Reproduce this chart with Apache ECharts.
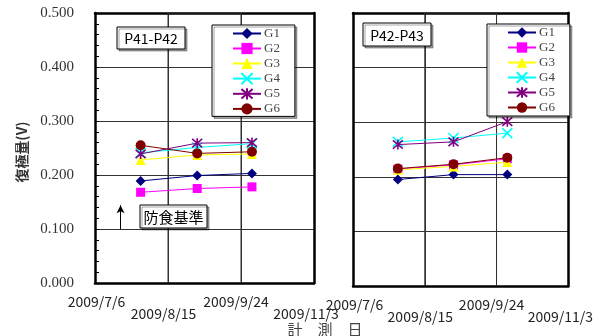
<!DOCTYPE html>
<html>
<head>
<meta charset="utf-8">
<script src="https://cdn.jsdelivr.net/npm/echarts@6/dist/echarts.min.js"></script>
<style>html,body{margin:0;padding:0;background:#fff}#c{width:612px;height:336px}</style>
</head>
<body>
<div id="c"></div>
<script>
// ---- data ----
const seriesNames = ['G1', 'G2', 'G3', 'G4', 'G5', 'G6'];
const measureDates = ['2009/7/31', '2009/8/31', '2009/9/30'];
const xTickLabels = ['2009/7/6', '2009/8/15', '2009/9/24', '2009/11/3'];
const panelTitles = ['P41-P42', 'P42-P43'];

const p41_G1 = [0.189, 0.199, 0.203];
const p41_G2 = [0.168, 0.175, 0.178];
const p41_G3 = [0.228, 0.237, 0.239];
const p41_G4 = [0.241, 0.251, 0.258];
const p41_G5 = [0.239, 0.259, 0.260];
const p41_G6 = [0.255, 0.240, 0.243];

const p42_G1 = [0.195, 0.204, 0.204];
const p42_G2 = [0.214, 0.222, 0.233];
const p42_G3 = [0.213, 0.219, 0.227];
const p42_G4 = [0.264, 0.271, 0.280];
const p42_G5 = [0.259, 0.264, 0.301];
const p42_G6 = [0.215, 0.223, 0.235];

const yRange = [0, 0.5];
const criterionLine = [0.100, 0.144];   // 防食基準 arrow (V)
const criterionDate = '2009/7/20';

// ---- helpers ----
const startDate = new Date(xTickLabels[0]);
const dayOf = s => Math.round((new Date(s) - startDate) / 86400000);
const innerTicks = xTickLabels.slice(1, -1).map(dayOf);   // vertical grid lines

const styles = {
  G1: {color: '#000080', symbol: 'diamond', size: 10},
  G2: {color: '#FF00FF', symbol: 'rect', size: 9},
  G3: {color: '#FFFF00', symbol: 'triangle', size: 10},
  G4: {color: '#00FFFF', symbol: 'path://M0,0L10,10M10,0L0,10', size: 10, stroke: true},
  G5: {color: '#800080', symbol: 'path://M0,0L10,10M10,0L0,10M5,-1L5,11', size: 10, stroke: true},
  G6: {color: '#800000', symbol: 'circle', size: 10}
};

const panels = [
  [p41_G1, p41_G2, p41_G3, p41_G4, p41_G5, p41_G6],
  [p42_G1, p42_G2, p42_G3, p42_G4, p42_G5, p42_G6]
];

const series = [];
panels.forEach((vals, gi) => {
  // vertical grid lines at the inner date ticks (bottom -> top -> next tick -> bottom)
  const gridPath = [];
  innerTicks.forEach((v, k) => {
    const ends = k % 2 === 0 ? [yRange[0], yRange[1]] : [yRange[1], yRange[0]];
    gridPath.push([v, ends[0]], [v, ends[1]]);
  });
  series.push({
    type: 'line', xAxisIndex: gi, yAxisIndex: gi, data: gridPath, z: 2,
    silent: true, symbol: 'none', showSymbol: false, clip: false,
    lineStyle: {color: '#333', width: 1}, emphasis: {disabled: true}, tooltip: {show: false}
  });
  seriesNames.forEach((name, si) => {
    const st = styles[name];
    const s = {
      name: name, type: 'line', xAxisIndex: gi, yAxisIndex: gi,
      data: measureDates.map((d, i) => [dayOf(d), vals[si][i]]),
      symbol: st.symbol, symbolSize: st.size,
      lineStyle: {color: st.color, width: 1},
      itemStyle: st.stroke ? {color: st.color, borderColor: st.color, borderWidth: 1.6} : {color: st.color},
      emphasis: {disabled: true},
      z: 10 + si
    };
    if (gi === 0 && si === 1) {
      s.markLine = {
        silent: true, symbol: ['none', 'arrow'], symbolSize: [6, 8],
        label: {show: false}, emphasis: {disabled: true},
        lineStyle: {color: '#000', width: 1, type: 'solid'},
        data: [[{coord: [dayOf(criterionDate), criterionLine[0]]}, {coord: [dayOf(criterionDate), criterionLine[1]]}]]
      };
    }
    series.push(s);
  });
});

const shadow = {shadowColor: 'rgba(0,0,0,0.35)', shadowOffsetX: 2, shadowOffsetY: 2, shadowBlur: 0};
const frameLine = {show: true, onZero: false, lineStyle: {color: '#000', width: 2.5}};
const gridLine = {show: true, lineStyle: {color: '#333', width: 1}};

function lab(pad) {
  return {fontSize: 14, fontFamily: 'Noto Sans CJK JP', color: '#222', lineHeight: 16, padding: pad};
}
const labRich = {t0: lab([0, 0, 0, 3]), t1: lab([0, 9, 0, 0]), t2: lab([0, 10, 0, 0]), t3: lab([0, 16, 0, 0])};

// main bottom axis: upper-row labels (even ticks)
function xAxis(gi) {
  return {
    type: 'value', gridIndex: gi, min: 0, max: 120, interval: 40, position: 'bottom',
    axisLine: frameLine, axisTick: {show: false},
    splitLine: gridLine,
    axisLabel: {
      margin: 11, showMinLabel: true, showMaxLabel: true,
      formatter: (v) => {
        const idx = Math.round(v / 40);
        return idx % 2 === 0 ? '{t' + idx + '|' + xTickLabels[idx] + '}' : '';
      },
      rich: labRich
    }
  };
}
// second bottom axis: lower-row labels (odd ticks)
function xAxisLow(gi) {
  return {
    type: 'value', gridIndex: gi, min: 0, max: 120, interval: 40, position: 'bottom',
    axisLine: {show: false}, axisTick: {show: false}, splitLine: {show: false},
    axisLabel: {
      margin: 23, showMinLabel: true, showMaxLabel: true,
      formatter: (v) => {
        const idx = Math.round(v / 40);
        return idx % 2 === 1 ? '{t' + idx + '|' + xTickLabels[idx] + '}' : '';
      },
      rich: labRich
    }
  };
}
function xAxisTop(gi) {
  return {type: 'value', gridIndex: gi, min: 0, max: 120, interval: 40, position: 'top',
    axisLine: frameLine, axisTick: {show: false}, axisLabel: {show: false}, splitLine: {show: false}};
}

function yAxis(gi) {
  return {
    type: 'value', gridIndex: gi, min: yRange[0], max: yRange[1], interval: 0.1, position: 'left',
    axisLine: frameLine,
    axisTick: {show: gi === 0, inside: true, length: 4, lineStyle: {color: '#000'}},
    minorTick: {show: gi === 0, splitNumber: 5, length: 4, lineStyle: {color: '#000'}},
    splitLine: gridLine,
    axisLabel: {
      show: gi === 0, margin: 21, color: '#333',
      fontFamily: 'Liberation Serif', fontSize: 15,
      showMinLabel: true, showMaxLabel: true,
      formatter: v => v.toFixed(3)
    }
  };
}
function yAxisRight(gi) {
  return {type: 'value', gridIndex: gi, min: yRange[0], max: yRange[1], position: 'right',
    axisLine: frameLine, axisTick: {show: false}, axisLabel: {show: false}, splitLine: {show: false}};
}

function legend(left, top, pad, ih) {
  return {
    data: seriesNames, orient: 'vertical', left: left, top: top,
    padding: pad, itemGap: 2, itemWidth: 28, itemHeight: ih,
    backgroundColor: '#fff', borderColor: '#000', borderWidth: 1,
    ...shadow, z: 20,
    selectedMode: false,
    textStyle: {fontFamily: 'Liberation Serif', fontSize: 13, color: '#444', padding: [0, 0, 0, -2]}
  };
}

function box(x, y, w, h, text, fs) {
  return [
    {type: 'rect', z: 100, shape: {x: x, y: y, width: w, height: h},
     style: {fill: '#fff', stroke: '#000', lineWidth: 1, ...shadow}},
    {type: 'text', z: 101, x: x + w / 2, y: y + h / 2 + 1,
     style: {text: text, fill: '#000', font: fs + 'px "Noto Sans CJK JP"', align: 'center', verticalAlign: 'middle'}}
  ];
}

const option = {
  animation: false,
  backgroundColor: '#fff',
  grid: [
    {left: 95, top: 13, width: 219, height: 270, show: false},
    {left: 353, top: 13, width: 221, height: 273, show: false}
  ],
  xAxis: [xAxis(0), xAxis(1), xAxisLow(0), xAxisLow(1), xAxisTop(0), xAxisTop(1)],
  yAxis: [yAxis(0), yAxis(1), yAxisRight(0), yAxisRight(1)],
  legend: [legend(212, 25, [2, 15, 1, 20], 14), legend(487, 24, [2, 15, 2, 20], 13)],
  graphic: [
    ...box(117, 27, 68, 22, panelTitles[0], 14),
    ...box(363, 23, 68, 23, panelTitles[1], 14),
    ...box(140, 205, 67, 23, '防食基準', 15),
    {type: 'text', z: 101, x: 22, y: 152, rotation: Math.PI / 2,
     style: {text: '復極量(V)', fill: '#333', font: 'bold 14px "Noto Sans CJK JP"', align: 'center', verticalAlign: 'middle'}},
    {type: 'text', z: 101, x: 325, y: 329,
     style: {text: '計　測　日', fill: '#444', font: '15px "Noto Sans CJK JP"', align: 'center', verticalAlign: 'middle'}}
  ],
  series: series
};

const chart = echarts.init(document.getElementById('c'), null, {renderer: 'canvas'});
chart.setOption(option);
</script>
</body>
</html>
